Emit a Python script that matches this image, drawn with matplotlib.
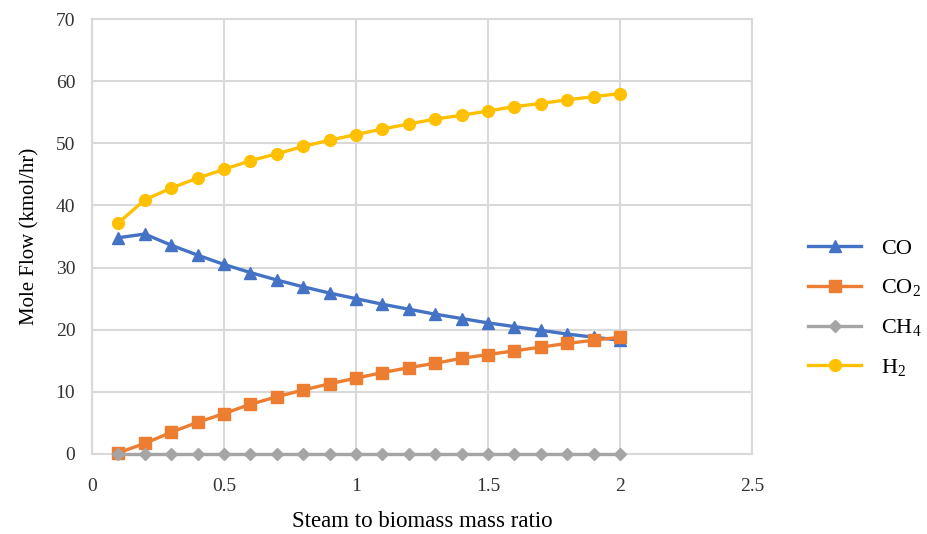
import matplotlib
matplotlib.use("Agg")
import matplotlib.pyplot as plt

plt.rcParams['font.family'] = ['Liberation Serif', 'DejaVu Serif']
plt.rcParams['mathtext.fontset'] = 'custom'
plt.rcParams['mathtext.rm'] = 'Liberation Serif'
plt.rcParams['mathtext.it'] = 'Liberation Serif:italic'

ratio = [0.1, 0.2, 0.3, 0.4, 0.5, 0.6, 0.7, 0.8, 0.9, 1.0,
         1.1, 1.2, 1.3, 1.4, 1.5, 1.6, 1.7, 1.8, 1.9, 2.0]
co = [34.8, 35.4, 33.6, 32.0, 30.5, 29.2, 28.0, 26.9, 25.9, 25.0,
      24.1, 23.3, 22.5, 21.8, 21.1, 20.5, 19.9, 19.3, 18.8, 18.3]
co2 = [0.2, 1.7, 3.5, 5.1, 6.5, 8.0, 9.2, 10.3, 11.3, 12.2,
       13.1, 13.9, 14.6, 15.4, 16.0, 16.6, 17.2, 17.8, 18.3, 18.8]
ch4 = [0.0] * 20
h2 = [37.2, 40.9, 42.8, 44.4, 45.8, 47.2, 48.3, 49.5, 50.5, 51.4,
      52.3, 53.1, 53.9, 54.5, 55.2, 55.9, 56.4, 57.0, 57.5, 58.0]

labels = ['CO', 'CO$_2$', 'CH$_4$', 'H$_2$']
colors = ['#4472C4', '#ED7D31', '#A5A5A5', '#FFC000']
markers = ['^', 's', 'D', 'o']
sizes = [8.5, 8.5, 6.5, 8.5]

fig = plt.figure(figsize=(9.28, 5.34), dpi=100)
ax = fig.add_axes([92/928, 1-454/534, (752-92)/928, (454-19)/534])

for ys, lab, c, m, ms in zip([co, co2, ch4, h2], labels, colors, markers, sizes):
    ax.plot(ratio, ys, color=c, marker=m, markersize=ms, linewidth=2.4,
            label=lab, clip_on=False, zorder=3)

ax.set_xlim(0, 2.5)
ax.set_ylim(0, 70)
ax.set_xticks([0, 0.5, 1, 1.5, 2, 2.5])
ax.set_xticklabels(['0', '0.5', '1', '1.5', '2', '2.5'])
ax.set_yticks(range(0, 71, 10))
ax.grid(True, color='#D9D9D9', linewidth=1.5)
ax.set_axisbelow(True)
for s in ax.spines.values():
    s.set_color('#D9D9D9')
    s.set_linewidth(1.5)
ax.tick_params(length=0, labelsize=14, colors='#333333')
ax.tick_params(axis='x', pad=17)
ax.tick_params(axis='y', pad=12)

ax.set_xlabel('Steam to biomass mass ratio', fontsize=16.5, labelpad=12)
ax.set_ylabel('Mole Flow (kmol/hr)', fontsize=15, labelpad=12)

leg = ax.legend(loc='center left', bbox_to_anchor=(799/928, 0.423), bbox_transform=fig.transFigure,
                frameon=False, fontsize=16, handlelength=2.4, labelspacing=0.85,
                handletextpad=0.9, borderaxespad=0)

fig.savefig('out.png', dpi=100)
